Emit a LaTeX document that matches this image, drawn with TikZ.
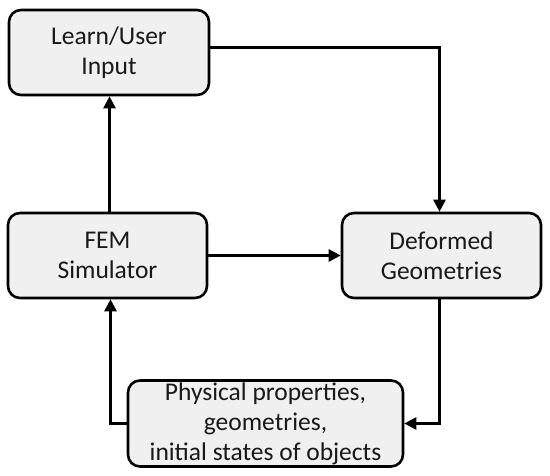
\documentclass[tikz,border=0pt]{standalone}
\usepackage{fontspec}
\setmainfont{Carlito}
\usetikzlibrary{arrows.meta}
\begin{document}
\begin{tikzpicture}[x=1pt,y=-1pt,
  box/.style={draw=black,line width=2.6pt,rounded corners=12pt,fill=black!6,
    align=center,font=\fontsize{25.5}{30}\selectfont,inner sep=0pt,text=black!90},
  arr/.style={draw=black,line width=2.6pt,-{Triangle[length=12pt,width=12pt]}}]
\useasboundingbox[fill=white] (0,0) rectangle (550,476);
\node[box,minimum width=200pt,minimum height=85pt] (learn) at (109,52.5) {Learn/User\\Input};
\node[box,minimum width=199pt,minimum height=85pt] (fem) at (107.5,255.5) {FEM\\Simulator};
\node[box,minimum width=199pt,minimum height=85pt] (def) at (441.5,255.5) {Deformed\\Geometries};
\node[box,minimum width=275pt,minimum height=86pt] (phys) at (265.5,423.5) {Physical properties,\\geometries,\\initial states of objects};
\coordinate (c1) at (439.5,47.5);
\coordinate (c3) at (110.5,423.5);
\draw[arr] ([xshift=2pt]fem.north) -- ([xshift=0.5pt]learn.south);
\draw[arr] (learn.east |- c1) -| (c1 |- def.north);
\draw[arr] (fem.east) -- (def.west);
\draw[arr] (c1 |- def.south) |- (phys.east);
\draw[arr] (phys.west) -| (c3 |- fem.south);
\end{tikzpicture}
\end{document}
